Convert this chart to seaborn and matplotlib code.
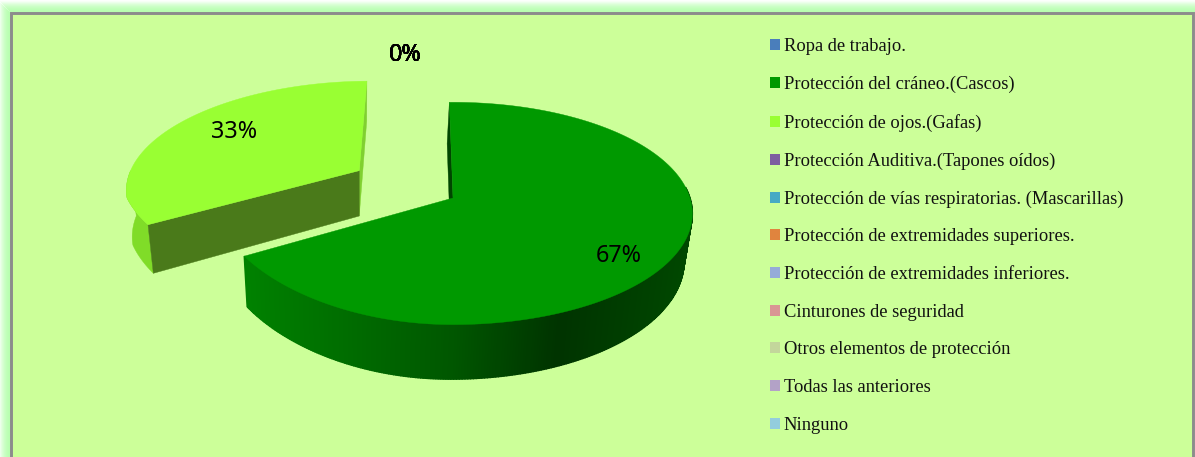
import numpy as np
import matplotlib
matplotlib.use('Agg')
import matplotlib.pyplot as plt
from matplotlib.patches import Patch, Rectangle
import seaborn as sns

categorias = ['Ropa de trabajo.', 'Protección del cráneo.(Cascos)', 'Protección de ojos.(Gafas)',
              'Protección Auditiva.(Tapones oídos)', 'Protección de vías respiratorias. (Mascarillas)',
              'Protección de extremidades superiores.', 'Protección de extremidades inferiores.',
              'Cinturones de seguridad', 'Otros elementos de protección', 'Todas las anteriores', 'Ninguno']
valores = [0, 67, 33, 0, 0, 0, 0, 0, 0, 0, 0]
colores = ['#4a7ebb', '#009900', '#99ff33', '#7d5fa0', '#46aac4', '#e0843e',
           '#95acd8', '#d99694', '#c3d69b', '#b3a2c7', '#93cddd']

W, H = 1195, 457
FONDO = '#ccff99'

sns.set_theme(style='white')
fig = plt.figure(figsize=(W / 100, H / 100), dpi=100, facecolor='white')
ax = fig.add_axes([0, 0, 1, 1])
ax.set_xlim(0, W)
ax.set_ylim(H, 0)
ax.axis('off')

# resplandor del borde
for i in range(13):
    ax.add_patch(Rectangle((11 - i, 13 - i), W - 10 + 2 * i, H + 20, fc='none',
                           ec='#b8ffb0', lw=1.6, alpha=max(0.95 - i * 0.08, 0.02), zorder=1))
ax.add_patch(Rectangle((11, 13.2), 1182.5, H + 20, fc=FONDO, ec='#8c8c8c', lw=2.1, zorder=2))

# proyeccion del pastel en perspectiva
CX, CY = 453, 198
RX, RY, B, PROF = 237, 109, 0.139, 47
FUGA, ENCOGE = 360, 0.025


def proyectar(X, Y, z=0.0):
    f = 1 + B * Y
    bx = np.where((np.asarray(Y) > 0) | (np.asarray(X) > 0), 0.14, 0.03)
    x = CX + RX * X / (1 + bx * Y)
    return x - ENCOGE * z * (x - FUGA), CY - RY * Y / f + PROF * z / f


def borde(t, ox, oy, z=0.0):
    return proyectar(ox + np.cos(t), oy + np.sin(t), z)


def poligono(xs, ys, color, zorder=3, lw=0.3):
    ax.fill(xs, ys, fc=color, ec=color, lw=lw, zorder=zorder)


def sombra_verde(x):
    return np.interp(x, [245, 450, 560, 690], [130, 88, 52, 72])


total = sum(valores)
inicio = np.deg2rad(91)
a1 = inicio - 2 * np.pi * valores[1] / total + 2 * np.pi
a2 = a1 - 2 * np.pi * valores[2] / total

# rebanada clara, desplazada
ox, oy = -0.41, 0.26
t = np.linspace(a2, a1, 200)
sup_x, sup_y = borde(t, ox, oy)

x0, y0 = proyectar(ox, oy)
x00, y00 = proyectar(ox, oy, 1)
x1, y1 = borde(np.array([a2]), ox, oy)
x11, y11 = borde(np.array([a2]), ox, oy, 1)
poligono([x1[0], x11[0], x00, x0], [y1[0], y11[0], y00, y0], '#80d030', 3)

# pared exterior izquierda
t2 = np.linspace(np.pi, a1, 40)
xa, ya = borde(t2, ox, oy)
xb, yb = borde(t2, ox, oy, 1)
poligono(np.r_[xa, xb[::-1]], np.r_[ya, yb[::-1]], '#80dc28', 3)

# pared radial frontal
xe, ye = borde(np.array([a1]), ox, oy)
xf, yf = borde(np.array([a1]), ox, oy, 1)
poligono([x0, xe[0], xf[0], x00], [y0, ye[0], yf[0], y00], '#4a7a1a', 4)

poligono(np.r_[x0, sup_x], np.r_[y0, sup_y], colores[2], 5)

# rebanada verde
t = np.linspace(inicio, a1 - 2 * np.pi, 400)
sup_x, sup_y = borde(t, 0, 0)
x0, y0 = proyectar(0, 0)
x00, y00 = proyectar(0, 0, 1)
x1, y1 = borde(np.array([inicio]), 0, 0)
x11, y11 = borde(np.array([inicio]), 0, 0, 1)
poligono([x1[0], x11[0], x00, x0], [y1[0], y11[0], y00, y0], '#004600', 6)

# pared exterior con degradado
t3 = np.linspace(a1 - 2 * np.pi, 0.1, 260)
xa, ya = borde(t3, 0, 0)
xb, yb = borde(t3, 0, 0, 1)
for i in range(len(t3) - 1):
    g = int(sombra_verde(xa[i]))
    c = (0, g / 255, 0)
    poligono([xa[i], xa[i + 1], xb[i + 1], xb[i]], [ya[i], ya[i + 1], yb[i + 1], yb[i]], c, 7, lw=1.0)

poligono(np.r_[x0, sup_x], np.r_[y0, sup_y], colores[1], 8)

# etiquetas de porcentaje
fuente = 'Noto Sans'
ax.text(619, 256, '67%', ha='center', va='center', fontsize=16.8, family=fuente, color='black', zorder=10)
ax.text(234, 132, '33%', ha='center', va='center', fontsize=16.8, family=fuente, color='black', zorder=10)
for v in valores:
    if v == 0:
        ax.text(405, 55, '0%', ha='center', va='center', fontsize=16.8, family=fuente, color='black', zorder=10)

# leyenda
fs = 13.3
h = 10 / (fs * 100 / 72)
asas = [Patch(fc=c, ec='none') for c in colores]
ley = ax.legend(asas, categorias, loc='upper left', bbox_to_anchor=(770 / W, 1 - 38 / H),
                bbox_transform=ax.transAxes, frameon=False, borderpad=0, borderaxespad=0,
                handlelength=h, handleheight=h, handletextpad=0.21, labelspacing=1.12,
                prop={'family': 'Liberation Serif', 'size': fs}, labelcolor='#111111')
ley.set_zorder(11)

fig.savefig('out.png', dpi=100, facecolor='white')
